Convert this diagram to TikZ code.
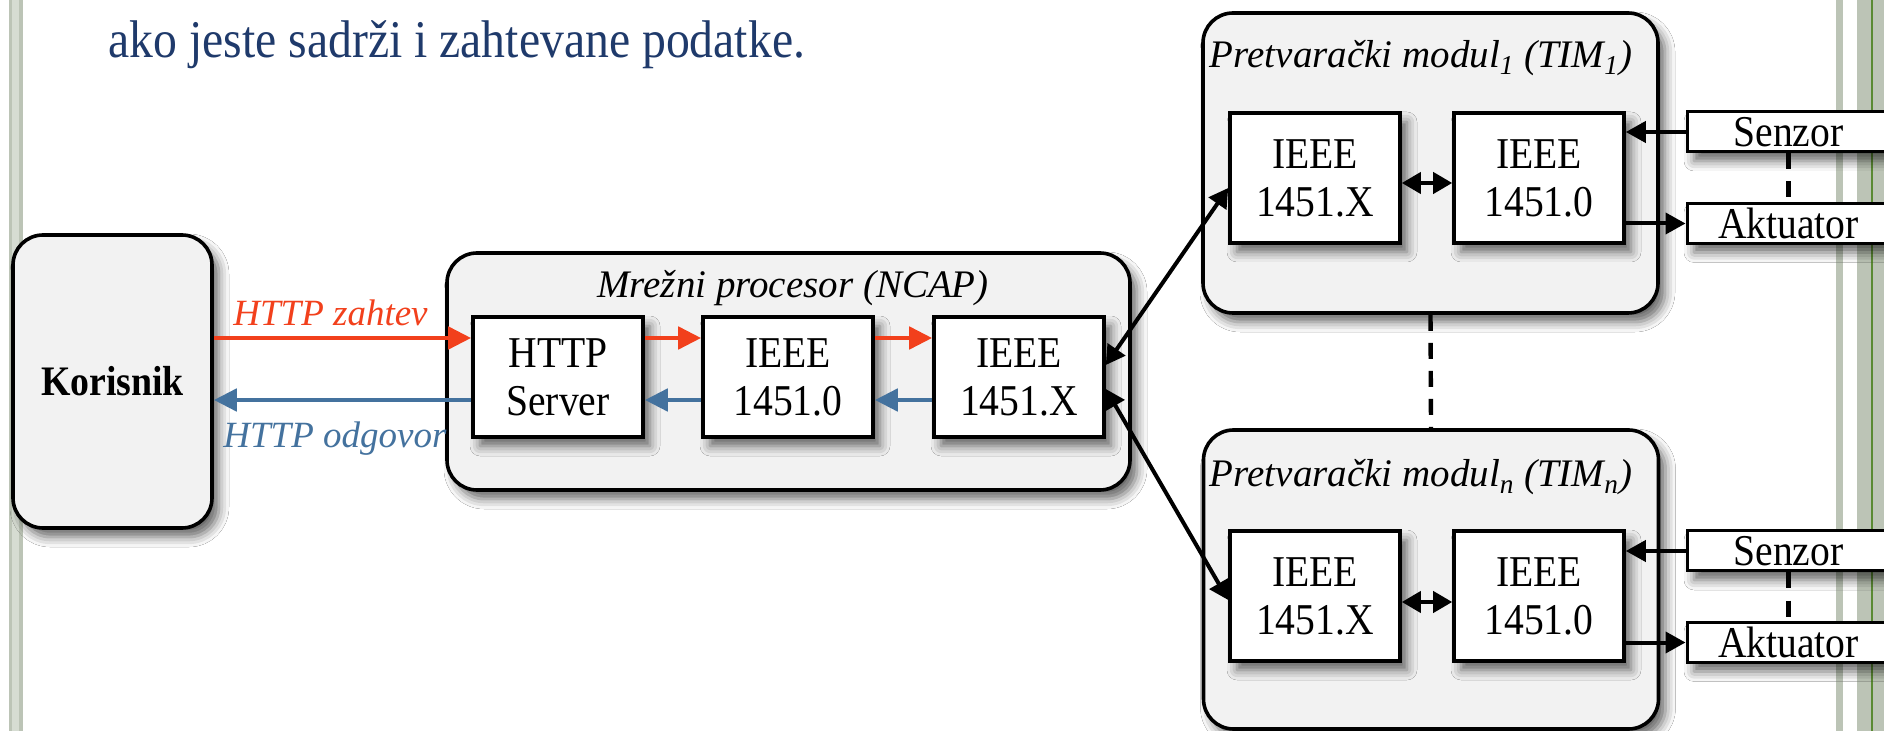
\documentclass[tikz,border=0pt]{standalone}
\usepackage{fontspec}
\setmainfont{Liberation Serif}
\newfontfamily\cnd[FakeStretch=0.9]{Liberation Serif}
\usetikzlibrary{arrows.meta,shadows.blur}
\definecolor{boxgray}{HTML}{F2F2F2}
\definecolor{redc}{HTML}{F2401C}
\definecolor{bluec}{HTML}{44729E}
\definecolor{navy}{HTML}{1F3A6B}
\definecolor{bargray}{HTML}{BCC4B6}
\definecolor{barlight}{HTML}{D6DCD2}
\definecolor{bargreen}{HTML}{5A8A33}
\begin{document}
\begin{tikzpicture}[x=0.5pt,y=-0.5pt,
  shd/.style={blur shadow={shadow xshift=3.5pt,shadow yshift=-4.5pt,shadow blur radius=5pt,shadow opacity=60}},
  bigbox/.style={draw=black, line width=1.8pt, rounded corners=15pt, fill=boxgray, inner sep=0pt, shd},
  ibox/.style={draw=black, line width=1.8pt, fill=white, inner sep=0pt, minimum width=85pt, align=center, font=\cnd\fontsize{22}{24}\selectfont, shd},
  sbox/.style={draw=black, line width=1.5pt, fill=white, inner sep=0pt, minimum width=101.5pt, minimum height=20pt, font=\cnd\fontsize{22}{24}\selectfont, shd},
  ttl/.style={font=\itshape\fontsize{19.5}{23}\selectfont, inner sep=0pt},
  redarr/.style={draw=redc, line width=2.4pt, -{Triangle[length=11.5pt,width=11pt]}},
  bluearr/.style={draw=bluec, line width=2.4pt, -{Triangle[length=11.5pt,width=11pt]}},
  arr/.style={line width=2pt, -{Triangle[length=10pt,width=10.5pt]}},
  darr/.style={line width=2pt, {Triangle[length=9.5pt,width=10.5pt]}-{Triangle[length=9.5pt,width=10.5pt]}},
  dline/.style={line width=2.2pt, dash pattern=on 8pt off 6pt}
]
\useasboundingbox (0,0) rectangle (1884,731);
\fill[white] (0,0) rectangle (1884,731);
% side bars
\fill[bargray] (9,0) rectangle (23,731);
\fill[barlight] (12,0) rectangle (19,731);
\fill[bargray] (1836,0) rectangle (1843,731);
\fill[bargray] (1857,0) rectangle (1884,731);
\draw[bargreen, line width=0.8pt] (1872,0) -- (1872,731);

% top text
\node[anchor=base west, inner sep=0pt, text=navy, font=\cnd\fontsize{26.5}{30}\selectfont] (toptext) at (108,58) {ako jeste sadrži i zahtevane podatke.};

% Korisnik
\node[bigbox, minimum width=99.5pt, minimum height=146.5pt, font=\cnd\bfseries\fontsize{21}{24}\selectfont] (kor) at (112.5,381.5) {Korisnik};

% NCAP
\node[bigbox, minimum width=341.5pt, minimum height=118.5pt] (ncap) at (788.5,371.5) {};
\node[ttl, anchor=base] (ncapt) at (793,298) {Mrežni procesor (NCAP)};
\node[ibox, minimum height=60pt] (http) at (558,377) {HTTP\\Server};
\node[ibox, minimum height=60pt] (n0) at (788,377) {IEEE\\1451.0};
\node[ibox, minimum height=60pt] (nx) at (1019,377) {IEEE\\1451.X};

% TIM 1
\node[bigbox, minimum width=227.5pt, minimum height=150pt] (tim1) at (1430.5,163) {};
\node[ttl, anchor=base] (tim1t) at (1421,68) {Pretvarački modul\textsubscript{1} (TIM\textsubscript{1})};
\node[ibox, minimum height=65pt] (t1x) at (1315,178) {IEEE\\1451.X};
\node[ibox, minimum height=65pt] (t10) at (1539,178) {IEEE\\1451.0};

% TIM n
\node[bigbox, minimum width=227.5pt, minimum height=149.5pt] (timn) at (1431,579.5) {};
\node[ttl, anchor=base] (timnt) at (1421,487) {Pretvarački modul\textsubscript{n} (TIM\textsubscript{n})};
\node[ibox, minimum height=65pt] (tnx) at (1315,596) {IEEE\\1451.X};
\node[ibox, minimum height=65pt] (tn0) at (1539,596) {IEEE\\1451.0};

% Senzor / Aktuator
\node[sbox] (sen1) at (1788.5,132) {Senzor};
\node[sbox] (akt1) at (1788.5,223.5) {Aktuator};
\node[sbox] (senn) at (1788.5,551) {Senzor};
\node[sbox] (aktn) at (1788.5,642.5) {Aktuator};

% helper coordinates
\coordinate (yr) at (0,338);
\coordinate (yb) at (0,400);
\coordinate (yu1) at (0,365);
\coordinate (yu2) at (0,188);
\coordinate (yl1) at (0,389);
\coordinate (yl2) at (0,600);
\coordinate (yd1) at (0,183);
\coordinate (ydn) at (0,602);
\coordinate (ya1) at (0,223.5);
\coordinate (yan) at (0,642.5);

% HTTP arrows
\draw[redarr] (kor.east |- yr) -- (http.west |- yr);
\draw[redarr] (http.east |- yr) -- (n0.west |- yr);
\draw[redarr] (n0.east |- yr) -- (nx.west |- yr);
\draw[bluearr] (nx.west |- yb) -- (n0.east |- yb);
\draw[bluearr] (n0.west |- yb) -- (http.east |- yb);
\draw[bluearr] (http.west |- yb) -- (kor.east |- yb);
\node[anchor=base west, inner sep=0pt, text=redc, font=\itshape\fontsize{18.5}{22}\selectfont] (lreq) at (233,326) {HTTP zahtev};
\node[anchor=base west, inner sep=0pt, text=bluec, font=\itshape\fontsize{18.5}{22}\selectfont] (lresp) at (223,448) {HTTP odgovor};

% NCAP <-> TIMs
\draw[darr] (nx.east |- yu1) -- (t1x.west |- yu2);
\draw[darr] (nx.east |- yl1) -- (tnx.west |- yl2);
\draw[darr] (t1x.east |- yd1) -- (t10.west |- yd1);
\draw[darr] (tnx.east |- ydn) -- (tn0.west |- ydn);

% sensors / actuators
\draw[arr] (sen1.west) -- (t10.east |- sen1.west);
\draw[arr] (t10.east |- ya1) -- (akt1.west);
\draw[arr] (senn.west) -- (tn0.east |- senn.west);
\draw[arr] (tn0.east |- yan) -- (aktn.west);

% dashed links
\draw[dline] (sen1.south) -- (akt1.north);
\draw[dline] (senn.south) -- (aktn.north);
\draw[dline] (tim1.south) -- (timn.north);
\end{tikzpicture}
\end{document}
